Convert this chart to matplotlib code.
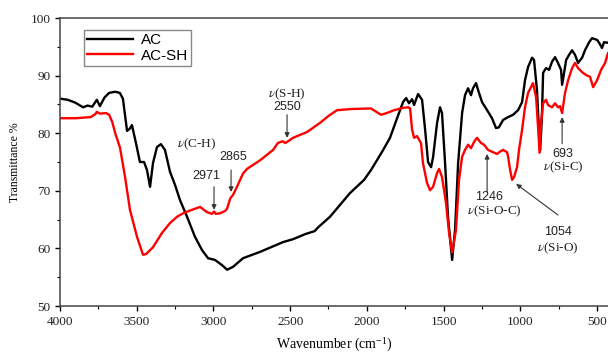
import matplotlib
matplotlib.use("Agg")
import matplotlib.pyplot as plt
from matplotlib.ticker import MultipleLocator

# FTIR spectra (wavenumber in cm-1, transmittance %)
ac_wn = [4000, 3950, 3900, 3850, 3820, 3790, 3760, 3740, 3710, 3680, 3640, 3610,
         3590, 3563, 3545, 3531, 3505, 3479, 3452, 3433, 3413, 3394, 3368, 3342,
         3316, 3283, 3250, 3218, 3172, 3120, 3074, 3035, 2990, 2944, 2911, 2872,
         2807, 2696, 2546, 2481, 2400, 2340, 2320, 2240, 2110, 2018, 1973, 1900,
         1849, 1803, 1764, 1744, 1725, 1705, 1692, 1666, 1640, 1620, 1601, 1581,
         1568, 1542, 1523, 1510, 1490, 1471, 1444, 1425, 1405, 1379, 1360, 1340,
         1321, 1308, 1288, 1275, 1249, 1216, 1184, 1158, 1140, 1112, 1079, 1047,
         1014, 988, 969, 949, 923, 910, 891, 878, 871, 864, 858, 851, 832, 812,
         793, 773, 754, 734, 727, 714, 701, 682, 662, 643, 623, 597, 578, 551,
         532, 499, 486, 467, 454, 428]
ac_t = [86.0, 85.8, 85.3, 84.5, 84.8, 84.6, 85.8, 84.7, 86.2, 87.0, 87.2, 87.0,
        86.0, 80.4, 80.8, 81.4, 78.3, 75.0, 75.0, 73.6, 70.7, 74.8, 77.6, 78.1,
        77.1, 73.3, 71.0, 68.4, 65.5, 62.0, 59.7, 58.3, 58.0, 57.1, 56.3, 56.8,
        58.3, 59.4, 61.1, 61.6, 62.5, 63.0, 63.6, 65.5, 69.6, 71.9, 73.6, 76.8,
        79.2, 82.6, 85.4, 86.1, 85.2, 85.9, 84.9, 86.8, 85.8, 80.6, 75.0, 74.1,
        75.9, 81.8, 84.5, 83.5, 74.8, 65.5, 58.0, 63.2, 74.8, 83.5, 86.6, 87.8,
        86.6, 87.8, 88.7, 87.5, 85.4, 84.0, 82.6, 80.9, 81.0, 82.3, 82.8, 83.2,
        84.0, 85.4, 89.2, 91.5, 93.1, 92.7, 87.5, 80.6, 77.0, 80.0, 83.5, 90.5,
        91.3, 91.0, 92.4, 93.2, 92.2, 91.0, 88.4, 90.5, 92.7, 93.6, 94.4, 93.6,
        92.2, 93.1, 94.4, 95.8, 96.5, 96.2, 95.7, 94.8, 95.8, 95.7]

acsh_wn = [4000, 3900, 3800, 3770, 3760, 3740, 3700, 3680, 3660, 3640, 3609, 3576,
           3544, 3498, 3459, 3440, 3394, 3335, 3283, 3237, 3198, 3140, 3087, 3042,
           3010, 2996, 2985, 2957, 2924, 2911, 2890, 2872, 2850, 2807, 2781, 2696,
           2611, 2580, 2550, 2530, 2481, 2390, 2305, 2250, 2194, 2100, 1973, 1908,
           1870, 1822, 1764, 1731, 1718, 1705, 1692, 1673, 1647, 1634, 1608, 1588,
           1568, 1542, 1529, 1510, 1484, 1464, 1444, 1419, 1399, 1379, 1360, 1340,
           1321, 1301, 1282, 1256, 1236, 1210, 1177, 1151, 1132, 1112, 1086, 1079,
           1066, 1053, 1040, 1021, 1008, 988, 969, 949, 930, 917, 897, 884, 874,
           864, 851, 832, 819, 793, 773, 754, 741, 727, 708, 688, 662, 643, 623,
           597, 571, 545, 525, 499, 473, 447, 428]
acsh_t = [82.6, 82.6, 82.8, 83.3, 83.7, 83.4, 83.5, 83.2, 82.0, 80.0, 77.5, 72.4,
          66.7, 62.0, 58.9, 59.0, 60.2, 62.7, 64.4, 65.5, 66.1, 66.7, 67.2, 66.3,
          66.0, 66.4, 66.0, 66.1, 66.5, 66.9, 68.7, 69.3, 70.5, 73.0, 73.8, 75.3,
          77.1, 78.3, 78.6, 78.3, 79.2, 80.2, 81.8, 83.0, 84.0, 84.2, 84.3, 83.2,
          83.5, 84.0, 84.4, 84.5, 84.3, 80.6, 79.2, 79.5, 78.3, 74.8, 71.4, 70.1,
          70.7, 73.1, 73.8, 72.4, 67.9, 62.7, 59.3, 63.2, 71.9, 75.9, 77.1, 78.0,
          77.4, 78.5, 79.2, 78.3, 78.0, 77.1, 76.7, 76.4, 76.8, 77.1, 76.7, 75.9,
          73.6, 71.9, 72.4, 74.1, 77.1, 80.6, 84.5, 87.0, 88.0, 88.7, 86.3, 81.1,
          76.6, 81.8, 85.2, 85.8, 84.9, 84.5, 85.2, 84.5, 84.7, 83.5, 87.0, 89.2,
          91.3, 92.2, 91.3, 90.6, 90.1, 89.8, 88.0, 89.2, 91.0, 92.2, 93.9]

# band assignments: (label, nu text, arrow head, arrow tail, number pos, nu pos)
bands = [
    ("2971", None, (2996, 66.7), (2996, 70.7), (3048, 72.6), None),
    ("2865", "(C-H)", (2885, 69.8), (2885, 73.6), (2872, 75.9), (3107, 78.0)),
    ("2550", "(S-H)", (2520, 79.2), (2520, 83.2), (2520, 84.6), (2520, 86.8)),
    ("1246", "(Si-O-C)", (1216, 76.4), (1216, 69.8), (1203, 68.9), (1171, 66.5)),
    ("1054", "(Si-O)", (1027, 71.2), (754, 65.8), (754, 62.8), (754, 60.0)),
    ("693", "(Si-C)", (727, 82.8), (727, 78.2), (720, 76.4), (720, 74.1)),
]

plt.rcParams["font.family"] = ["Liberation Serif", "DejaVu Serif"]
plt.rcParams["mathtext.fontset"] = "stix"

fig = plt.figure(figsize=(6.08, 3.53), dpi=100)
ax = fig.add_axes([0.0987, 0.1331, 0.9013, 0.8159])

ax.plot(ac_wn, ac_t, color="black", lw=1.7, label="AC")
ax.plot(acsh_wn, acsh_t, color="#ff0000", lw=1.7, label="AC-SH")

for num, nu, head, tail, num_pos, nu_pos in bands:
    ax.annotate("", xy=head, xytext=tail,
                arrowprops=dict(arrowstyle="-|>", color="#333333", lw=0.8,
                                mutation_scale=7, shrinkA=0, shrinkB=0))
    ax.text(num_pos[0], num_pos[1], num, ha="center", va="center",
            fontsize=9, family=["Liberation Sans", "DejaVu Sans"], color="#222222")
    if nu is not None:
        ax.text(nu_pos[0], nu_pos[1], r"$\nu$" + nu, ha="center", va="center",
                fontsize=9.5, color="#222222")

ax.set_xlim(4000, 428)
ax.set_ylim(50, 100)
ax.xaxis.set_major_locator(MultipleLocator(500))
ax.xaxis.set_minor_locator(MultipleLocator(250))
ax.yaxis.set_major_locator(MultipleLocator(10))
ax.yaxis.set_minor_locator(MultipleLocator(5))
ax.tick_params(which="major", direction="out", length=3.5, width=1, labelsize=9.5,
               labelcolor="#222222")
ax.tick_params(which="minor", direction="out", length=2, width=0.8)
ax.spines["right"].set_visible(False)
for side in ["left", "bottom", "top"]:
    ax.spines[side].set_linewidth(1.1)
    ax.spines[side].set_color("#444444")

ax.set_xlabel(r"Wavenumber (cm$^{\mathregular{-1}}$)", fontsize=10, labelpad=6)
ax.set_ylabel("Transmittance %", fontsize=8.5, labelpad=7)

leg = ax.legend(loc="upper left", bbox_to_anchor=(0.03, 0.985), fancybox=False,
                edgecolor="#888888", framealpha=1, handlelength=3.0,
                borderpad=0.2, labelspacing=0.1, handletextpad=0.5,
                prop={"family": ["Liberation Sans", "DejaVu Sans"], "size": 11})
leg.get_frame().set_linewidth(1.0)

fig.savefig("out.png", dpi=100)
